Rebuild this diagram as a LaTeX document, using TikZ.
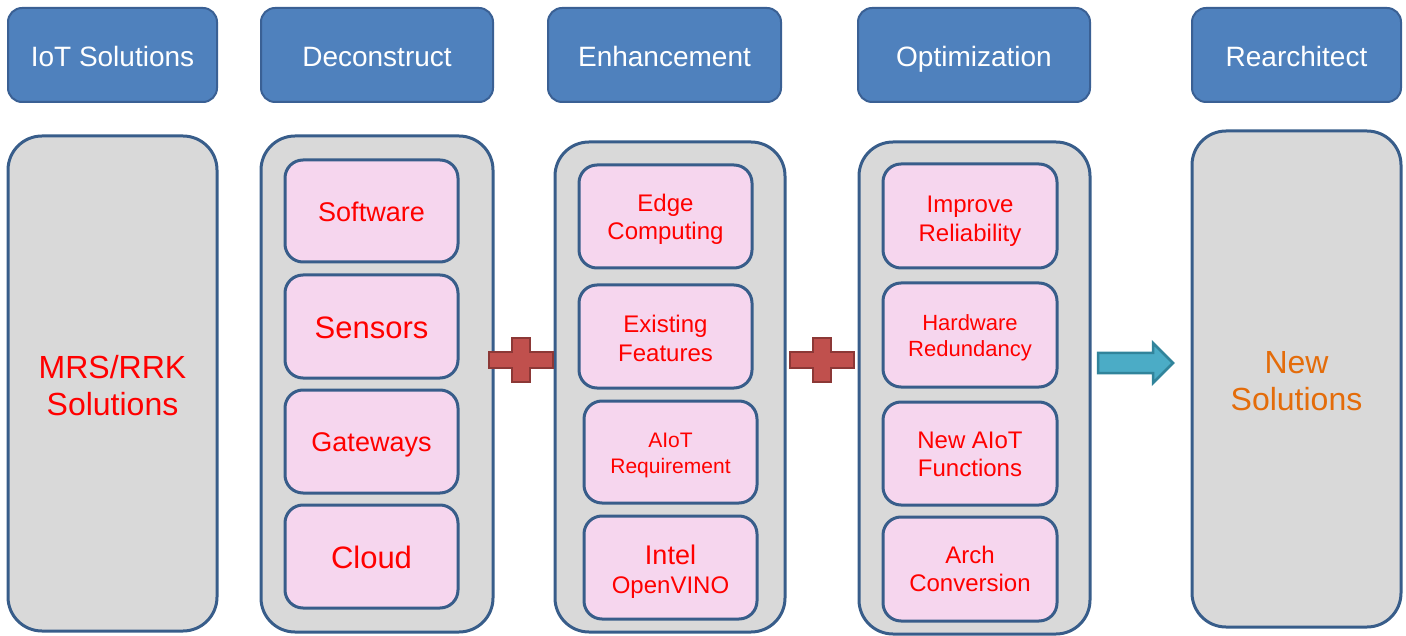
\documentclass[tikz,border=0pt]{standalone}
\usepackage{fontspec}
\setmainfont{Liberation Sans}
\definecolor{hdrfill}{HTML}{4F81BD}
\definecolor{hdrline}{HTML}{3A6094}
\definecolor{boxline}{HTML}{385D8A}
\definecolor{bodyfill}{HTML}{D9D9D9}
\definecolor{itemfill}{HTML}{F6D6EE}
\definecolor{itemtext}{HTML}{FF0000}
\definecolor{newtext}{HTML}{E46C0A}
\definecolor{plusfill}{HTML}{C0504D}
\definecolor{plusline}{HTML}{8C3836}
\definecolor{arrfill}{HTML}{4BACC6}
\definecolor{arrline}{HTML}{31849B}
% \itm{name}{x}{y}{width}{height}{font}{drop}{text}
\newcommand\itm[8]{%
  \node[item, minimum width=#4, minimum height=#5] (#1) at (#2,#3) {};
  \node[itemtxt, font=#6] (#1-txt) at ([yshift=-#7pt]#1.center) {#8};}
\begin{document}
\begin{tikzpicture}[x=1pt,y=-1pt,
  hdr/.style={draw=hdrline, fill=hdrfill, line width=2pt, rounded corners=14pt,
    text=white, font=\fontsize{28}{32}\selectfont, inner sep=0pt,
    text height=23pt, text depth=0pt},
  body/.style={draw=boxline, fill=bodyfill, line width=3pt, rounded corners=34pt,
    inner sep=0pt},
  item/.style={draw=boxline, fill=itemfill, line width=3pt, rounded corners=18pt,
    inner sep=0pt},
  itemtxt/.style={text=itemtext, align=center, inner sep=0pt},
  plusstyle/.style={draw=plusline, fill=plusfill, line width=2.5pt, line join=miter},
  arrstyle/.style={draw=arrline, fill=arrfill, line width=2.5pt, line join=miter},
  plussign/.pic={
    \draw[plusstyle] (-32,-8) -- (-9,-8) -- (-9,-22) -- (9,-22) -- (9,-8) -- (32,-8)
      -- (32,8) -- (9,8) -- (9,22) -- (-9,22) -- (-9,8) -- (-32,8) -- cycle;
  },
  rightarrow/.pic={
    \draw[arrstyle] (-37,-10) -- (18,-10) -- (18,-20) -- (38,0) -- (18,20)
      -- (18,10) -- (-37,10) -- cycle;
  }
]
\useasboundingbox (0,0) rectangle (1406,636);

% column headers
\node[hdr, minimum width=209, minimum height=94] (h1) at (112.5,55) {IoT Solutions};
\node[hdr, minimum width=232, minimum height=94] (h2) at (377,55) {Deconstruct};
\node[hdr, minimum width=233, minimum height=94] (h3) at (664.5,55) {Enhancement};
\node[hdr, minimum width=232, minimum height=94] (h4) at (974,55) {Optimization};
\node[hdr, minimum width=209, minimum height=94] (h5) at (1296.5,55) {Rearchitect};

% column bodies
\node[body, minimum width=209, minimum height=495] (b1) at (112.5,383.5) {};
\node[itemtxt, font=\fontsize{32}{37}\selectfont] (b1-txt) at ([yshift=-2.5pt]b1.center) {MRS/RRK\\Solutions};
\node[body, minimum width=232, minimum height=496] (b2) at (377,384) {};
\node[body, minimum width=230, minimum height=490] (b3) at (670,387) {};
\node[body, minimum width=231, minimum height=492] (b4) at (974.5,388) {};
\node[body, minimum width=209, minimum height=496] (b5) at (1296.5,379) {};
\node[itemtxt, text=newtext, font=\fontsize{32}{37}\selectfont] (b5-txt) at ([yshift=-2.5pt]b5.center) {New\\Solutions};

% deconstruct items
\itm{d1}{371.5}{211}{173}{102}{\fontsize{27}{31}\selectfont}{1}{Software}
\itm{d2}{371.5}{326.5}{173}{103}{\fontsize{31}{35}\selectfont}{1}{Sensors}
\itm{d3}{371.5}{441.5}{173}{103}{\fontsize{27}{31}\selectfont}{3}{Gateways}
\itm{d4}{371.5}{556.5}{173}{103}{\fontsize{31}{35}\selectfont}{1}{Cloud}

% enhancement items
\itm{e1}{665.5}{216.5}{173}{103}{\fontsize{24}{28.5}\selectfont}{3}{Edge\\Computing}
\itm{e2}{665.5}{336.5}{173}{103}{\fontsize{24}{28.5}\selectfont}{2}{Existing\\Features}
\itm{e3}{670.5}{452}{173}{102}{\fontsize{21}{26}\selectfont}{3}{AIoT\\Requirement}
\itm{e4}{670.5}{567.5}{173}{103}{\fontsize{24}{29}\selectfont}{4}{{\fontsize{27}{29}\selectfont Intel}\\OpenVINO}

% optimization items
\itm{o1}{970}{216}{174}{104}{\fontsize{24}{29}\selectfont}{5}{Improve\\Reliability}
\itm{o2}{970}{335}{174}{104}{\fontsize{22}{26}\selectfont}{3}{Hardware\\Redundancy}
\itm{o3}{970}{453.5}{174}{103}{\fontsize{24}{28.5}\selectfont}{1}{New AIoT\\Functions}
\itm{o4}{970}{569}{174}{104}{\fontsize{24}{28.5}\selectfont}{0}{Arch\\Conversion}

% combining signs and the final arrow
\pic at (521,360) {plussign};
\pic at (822,360) {plussign};
\pic at (1135,363) {rightarrow};
\end{tikzpicture}
\end{document}
